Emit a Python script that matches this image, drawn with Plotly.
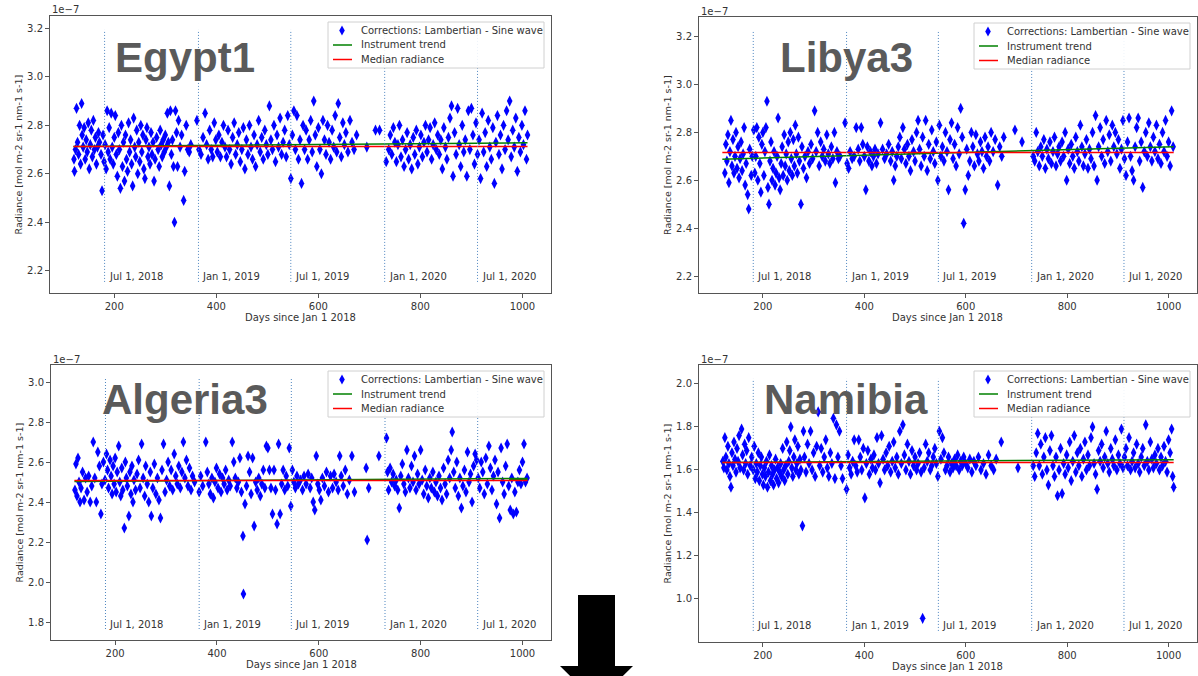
import plotly.graph_objects as go

W, H = 1198, 676

# ---------------- data (radiance values in units of 1e-7) ----------------
panel_names = ["Egypt1", "Libya3", "Algeria3", "Namibia"]
legend_labels = ["Corrections: Lambertian - Sine wave", "Instrument trend", "Median radiance"]

egypt_pts = [
(121,2.66),(122,2.61),(124,2.70),(126,2.87),(128,2.73),(130,2.68),(132,2.80),(134,2.64),(136,2.89),(137,2.76),(139,2.71),(141,2.79),(143,2.66),(145,2.74),(147,2.69),(149,2.81),(151,2.62),(153,2.72),(155,2.78),(157,2.67),(159,2.82),(161,2.70),(163,2.75),(165,2.64),(167,2.71),(169,2.77),(171,2.73),(174,2.68),(176,2.53),(178,2.76),(180,2.65),
(182,2.72),(184,2.62),(186,2.86),(188,2.69),(190,2.79),(192,2.66),(194,2.85),(196,2.71),(198,2.64),(200,2.75),(202,2.84),(204,2.68),(206,2.59),(208,2.77),(210,2.70),(212,2.54),(214,2.80),(216,2.63),(218,2.73),(220,2.57),(222,2.76),(224,2.66),(226,2.61),(228,2.81),(230,2.69),(232,2.74),(234,2.64),(236,2.55),(238,2.83),(240,2.71),(242,2.67),(244,2.78),(246,2.60),(248,2.73),(250,2.65),(252,2.80),(254,2.69),(256,2.76),(258,2.62),(260,2.58),(262,2.74),(264,2.79),(266,2.67),(268,2.71),(270,2.64),(272,2.77),(274,2.68),(276,2.73),(278,2.57),(280,2.66),(283,2.75),(286,2.70),(288,2.63),(290,2.78),(292,2.72),(294,2.67),(296,2.74),(298,2.69),(300,2.76),(302,2.71),(304,2.85),(306,2.73),(308,2.55),(310,2.86),(312,2.68),(314,2.74),(316,2.63),(318,2.40),(320,2.86),(322,2.77),(324,2.63),(326,2.82),(329,2.71),(332,2.76),(336,2.49),(338,2.61),(341,2.80),(344,2.70),(347,2.69),(350,2.72),
(362,2.82),(366,2.70),(370,2.68),(374,2.75),(378,2.85),(381,2.72),(384,2.66),(387,2.78),(390,2.70),(393,2.67),(396,2.81),(399,2.74),(402,2.69),(405,2.76),(408,2.67),(411,2.73),(414,2.80),(417,2.71),(420,2.67),(423,2.78),(426,2.70),(429,2.64),(432,2.75),(435,2.81),(438,2.68),(441,2.72),(444,2.77),(447,2.65),(450,2.70),(453,2.79),(456,2.62),(459,2.74),(462,2.68),(465,2.80),(468,2.71),(471,2.66),(474,2.76),(477,2.63),(480,2.72),(483,2.82),(486,2.69),(489,2.75),(492,2.66),(495,2.78),(498,2.72),(501,2.68),(504,2.88),(507,2.74),(510,2.70),(513,2.80),(516,2.65),(519,2.76),(522,2.71),(525,2.83),(528,2.68),(531,2.73),(534,2.78),(537,2.67),(540,2.84),(543,2.72),(546,2.58),(549,2.76),(552,2.86),(555,2.70),(558,2.84),(561,2.66),(564,2.74),(567,2.56),(570,2.80),(573,2.70),(576,2.78),(579,2.66),(582,2.74),(585,2.82),(588,2.69),(591,2.90),(594,2.76),(597,2.63),(600,2.79),(603,2.70),(606,2.60),(609,2.82),(612,2.74),(615,2.68),(618,2.80),(621,2.73),(624,2.66),(627,2.78),(630,2.71),(633,2.84),(636,2.69),(639,2.89),(642,2.75),(645,2.67),(648,2.81),(651,2.72),(654,2.77),(658,2.69),(662,2.82),(666,2.73),(670,2.70),(675,2.76),
(695,2.71),(712,2.78),(720,2.78),(733,2.65),
(738,2.70),(741,2.76),(744,2.68),(747,2.79),(750,2.73),(753,2.65),(756,2.72),(759,2.80),(762,2.67),(765,2.74),(768,2.63),(771,2.70),(774,2.77),(777,2.66),(780,2.72),(783,2.62),(786,2.75),(789,2.68),(792,2.78),(795,2.64),(798,2.71),(801,2.76),(804,2.67),(807,2.73),(810,2.80),(813,2.69),(816,2.74),(819,2.79),(822,2.66),(825,2.72),(828,2.81),(831,2.70),(834,2.76),(837,2.68),(840,2.74),(843,2.62),(846,2.79),(849,2.71),(852,2.66),(855,2.75),(858,2.83),(861,2.88),(864,2.59),(867,2.77),(870,2.68),(873,2.87),(876,2.72),(879,2.63),(882,2.80),(885,2.69),(888,2.74),(891,2.59),(894,2.86),(897,2.70),(900,2.87),(903,2.76),(906,2.64),(909,2.81),(912,2.68),(915,2.74),(918,2.58),(921,2.85),(924,2.69),(927,2.77),(930,2.63),(933,2.82),(936,2.71),(939,2.66),(942,2.79),(945,2.56),(948,2.73),(951,2.84),(954,2.68),(957,2.76),(960,2.62),(963,2.80),(966,2.70),(969,2.86),(972,2.74),(975,2.90),(978,2.67),(981,2.78),(984,2.71),(987,2.83),(990,2.61),(993,2.75),(996,2.69),(999,2.80),(1002,2.72),(1005,2.86),(1008,2.66),(1010,2.76)]

libya_pts = [
(125,2.63),(127,2.75),(129,2.68),(131,2.79),(133,2.59),(135,2.72),(137,2.85),(139,2.66),(141,2.77),(143,2.63),(145,2.70),(147,2.80),(149,2.65),(151,2.74),(153,2.61),(155,2.69),(157,2.76),(159,2.64),(161,2.71),(163,2.82),(165,2.58),(167,2.67),(170,2.54),(172,2.48),(174,2.73),(177,2.62),(179,2.70),
(182,2.81),(184,2.63),(186,2.70),(188,2.82),(190,2.60),(192,2.78),(194,2.67),(196,2.55),(198,2.75),(200,2.80),(202,2.62),(204,2.72),(206,2.82),(208,2.93),(210,2.57),(212,2.50),(214,2.68),(216,2.76),(218,2.60),(220,2.65),(222,2.72),(224,2.58),(226,2.63),(228,2.70),(230,2.86),(232,2.61),(234,2.56),(236,2.67),(238,2.74),(240,2.62),(242,2.79),(244,2.66),(246,2.71),(248,2.60),(250,2.76),(252,2.64),(254,2.80),(256,2.69),(258,2.62),(260,2.77),(262,2.66),(264,2.83),(266,2.71),(268,2.63),(270,2.78),(272,2.68),(275,2.50),(277,2.74),(280,2.65),(283,2.70),(286,2.61),(289,2.72),(292,2.67),(295,2.75),(298,2.69),(302,2.89),(305,2.72),(308,2.80),(311,2.66),(314,2.76),(317,2.70),(320,2.73),(323,2.68),(326,2.79),(329,2.71),(332,2.67),(335,2.74),(338,2.69),(341,2.80),(343,2.59),(346,2.72),(349,2.69),(352,2.70),
(362,2.84),(366,2.67),(369,2.65),(372,2.72),(376,2.69),(380,2.70),(384,2.82),(388,2.73),(391,2.68),(394,2.82),(397,2.75),(400,2.70),(403,2.56),(406,2.74),(409,2.68),(412,2.72),(415,2.66),(418,2.70),(421,2.73),(424,2.67),(427,2.71),(432,2.84),(436,2.73),(440,2.69),(444,2.71),(448,2.75),(452,2.68),(455,2.72),(458,2.60),(461,2.66),(464,2.70),(467,2.74),(470,2.78),(473,2.69),(476,2.82),(479,2.73),(482,2.67),(485,2.75),(488,2.70),(491,2.64),(494,2.77),(497,2.72),(500,2.68),(503,2.80),(506,2.85),(509,2.73),(512,2.66),(515,2.78),(518,2.70),(521,2.85),(524,2.64),(527,2.75),(530,2.69),(533,2.81),(536,2.72),(539,2.67),(542,2.76),(545,2.60),(548,2.83),(551,2.70),(554,2.74),(557,2.68),(560,2.80),(563,2.72),(566,2.56),(569,2.77),(572,2.84),(575,2.69),(578,2.75),(581,2.66),(584,2.82),(587,2.71),(590,2.90),(593,2.78),(596,2.42),(599,2.56),(602,2.73),(605,2.62),(608,2.68),(611,2.80),(614,2.74),(617,2.66),(620,2.79),(623,2.71),(626,2.68),(629,2.76),(632,2.72),(635,2.65),(638,2.78),(641,2.70),(644,2.74),(647,2.68),(650,2.80),(654,2.72),(658,2.77),(663,2.58),(667,2.74),(671,2.70),(675,2.78),
(697,2.81),(711,2.76),(733,2.70),
(736,2.68),(739,2.80),(742,2.72),(745,2.66),(748,2.74),(751,2.70),(754,2.77),(757,2.65),(760,2.73),(763,2.69),(766,2.76),(769,2.67),(772,2.72),(775,2.78),(778,2.66),(781,2.71),(784,2.74),(787,2.68),(790,2.76),(793,2.70),(796,2.80),(799,2.60),(802,2.73),(805,2.67),(808,2.75),(811,2.70),(814,2.65),(817,2.78),(820,2.72),(823,2.68),(826,2.83),(829,2.74),(832,2.66),(835,2.71),(838,2.77),(841,2.65),(844,2.73),(847,2.69),(850,2.80),(853,2.66),(856,2.87),(859,2.60),(862,2.74),(865,2.82),(868,2.70),(871,2.77),(874,2.67),(877,2.85),(880,2.72),(883,2.79),(886,2.68),(889,2.83),(892,2.74),(895,2.80),(898,2.71),(901,2.77),(904,2.65),(907,2.73),(910,2.85),(913,2.69),(916,2.62),(919,2.76),(922,2.86),(925,2.70),(928,2.64),(931,2.60),(934,2.74),(937,2.82),(940,2.86),(943,2.68),(946,2.76),(949,2.57),(952,2.72),(955,2.80),(958,2.70),(961,2.84),(964,2.74),(967,2.68),(970,2.78),(973,2.72),(976,2.83),(979,2.69),(982,2.75),(985,2.67),(988,2.80),(991,2.72),(994,2.85),(997,2.70),(1000,2.76),(1003,2.66),(1006,2.89),(1009,2.74)]

algeria_pts = [
(121,2.46),(123,2.59),(125,2.43),(127,2.62),(129,2.50),(131,2.40),(133,2.47),(136,2.55),(139,2.41),(142,2.52),(145,2.45),(148,2.53),(151,2.40),(154,2.48),(157,2.70),(160,2.52),(163,2.40),(166,2.65),(169,2.58),(172,2.34),(174,2.49),(177,2.60),(180,2.51),(183,2.64),(185,2.56),(187,2.47),(190,2.61),(192,2.53),(194,2.44),(196,2.58),(198,2.49),(200,2.62),(202,2.45),(204,2.55),(207,2.68),(209,2.50),(211,2.43),(213,2.57),(215,2.46),(218,2.27),(220,2.60),(222,2.52),(224,2.48),(227,2.33),(229,2.55),(231,2.44),(233,2.58),(235,2.40),(237,2.51),(240,2.46),(243,2.54),(246,2.61),(249,2.47),(252,2.69),(255,2.52),(258,2.43),(260,2.58),(263,2.49),(266,2.40),(269,2.55),(271,2.33),(274,2.47),(277,2.59),(280,2.44),(283,2.52),(286,2.41),(289,2.32),(292,2.56),(295,2.69),(298,2.45),(301,2.51),(304,2.60),(307,2.48),(310,2.56),(313,2.46),(316,2.64),(319,2.53),(322,2.49),(325,2.58),(328,2.47),(331,2.55),(334,2.70),(337,2.52),(340,2.61),(343,2.48),(346,2.57),(349,2.46),(352,2.53),(356,2.50),
(365,2.45),(368,2.53),(372,2.48),(378,2.70),(381,2.55),(384,2.49),(387,2.44),(390,2.52),(393,2.42),(396,2.50),(399,2.57),(402,2.47),(405,2.54),(408,2.45),(411,2.52),(414,2.49),(417,2.56),(420,2.46),(423,2.51),(426,2.48),(430,2.70),(433,2.60),(436,2.52),(439,2.47),(442,2.50),(445,2.62),(448,2.45),(451,2.23),(452,1.94),(455,2.39),(458,2.48),(461,2.63),(464,2.55),(467,2.44),(470,2.62),(473,2.28),(476,2.50),(479,2.46),(482,2.52),(485,2.43),(488,2.49),(491,2.56),(494,2.47),(497,2.68),(500,2.67),(503,2.56),(506,2.47),(509,2.34),(512,2.56),(515,2.46),(518,2.29),(521,2.69),(524,2.34),(527,2.49),(530,2.56),(533,2.46),(536,2.53),(539,2.48),(542,2.67),(545,2.38),(548,2.56),(551,2.50),(554,2.47),(557,2.53),(560,2.49),(564,2.51),(568,2.46),(571,2.53),(575,2.49),(579,2.54),(583,2.47),(586,2.52),(589,2.40),(592,2.36),(595,2.63),(598,2.49),(601,2.46),(604,2.41),(607,2.52),(611,2.48),(615,2.55),(619,2.45),(623,2.53),(627,2.47),(630,2.54),(634,2.50),(638,2.46),(641,2.63),(644,2.53),(648,2.48),(652,2.56),(656,2.44),(660,2.51),(665,2.63),(670,2.45),
(693,2.57),(695,2.21),(698,2.47),(718,2.63),(733,2.72),(735,2.55),
(737,2.46),(740,2.57),(743,2.50),(746,2.54),(749,2.48),(752,2.51),(755,2.46),(758,2.37),(761,2.53),(764,2.59),(767,2.49),(770,2.45),(773,2.66),(776,2.52),(779,2.47),(782,2.58),(785,2.50),(788,2.63),(791,2.46),(794,2.54),(797,2.49),(800,2.66),(803,2.51),(806,2.44),(809,2.56),(812,2.48),(815,2.42),(818,2.52),(821,2.47),(824,2.55),(827,2.45),(830,2.50),(833,2.43),(836,2.53),(839,2.47),(842,2.41),(845,2.57),(848,2.49),(851,2.44),(854,2.61),(857,2.52),(860,2.66),(862,2.75),(865,2.55),(868,2.47),(871,2.60),(874,2.43),(877,2.52),(880,2.37),(883,2.48),(886,2.56),(889,2.45),(892,2.65),(895,2.50),(898,2.54),(901,2.40),(904,2.58),(907,2.64),(910,2.61),(913,2.52),(916,2.47),(919,2.60),(922,2.55),(925,2.44),(928,2.62),(931,2.49),(934,2.68),(937,2.57),(940,2.46),(943,2.53),(946,2.61),(949,2.39),(952,2.55),(955,2.32),(958,2.67),(961,2.50),(964,2.44),(967,2.58),(970,2.69),(973,2.48),(976,2.36),(979,2.52),(982,2.34),(985,2.45),(988,2.35),(991,2.50),(994,2.56),(997,2.49),(1000,2.60),(1003,2.69),(1006,2.50),(1009,2.52)]

namibia_pts = [
(121,1.64),(123,1.61),(125,1.75),(127,1.66),(129,1.60),(131,1.71),(133,1.63),(135,1.57),(137,1.52),(139,1.68),(141,1.62),(143,1.73),(145,1.65),(147,1.59),(149,1.70),(151,1.64),(153,1.76),(155,1.61),(158,1.79),(160,1.67),(162,1.60),(164,1.72),(166,1.63),(168,1.69),(170,1.58),(172,1.75),(175,1.62),(178,1.66),
(181,1.60),(183,1.71),(185,1.56),(187,1.63),(189,1.59),(191,1.68),(193,1.55),(195,1.62),(197,1.66),(199,1.58),(201,1.53),(203,1.61),(205,1.57),(207,1.64),(209,1.52),(211,1.59),(213,1.67),(215,1.55),(217,1.62),(219,1.58),(221,1.53),(223,1.60),(225,1.65),(227,1.56),(229,1.61),(231,1.54),(233,1.59),(235,1.63),(237,1.57),(239,1.70),(241,1.60),(243,1.55),(245,1.62),(247,1.73),(249,1.58),(251,1.64),(253,1.69),(255,1.80),(257,1.61),(259,1.57),(261,1.66),(263,1.74),(265,1.60),(267,1.63),(269,1.71),(271,1.58),(273,1.65),(275,1.60),(278,1.34),(280,1.78),(282,1.66),(285,1.59),(288,1.72),(291,1.63),(294,1.78),(297,1.60),(300,1.68),(303,1.57),(306,1.71),(309,1.87),(312,1.62),(315,1.70),(318,1.59),(321,1.66),(324,1.74),(327,1.61),(330,1.57),(333,1.68),(336,1.63),(339,1.84),(342,1.56),(345,1.81),(348,1.66),(351,1.78),(354,1.62),(357,1.56),
(365,1.51),(368,1.67),(371,1.61),(374,1.58),(377,1.64),(380,1.74),(383,1.62),(386,1.59),(389,1.74),(392,1.66),(395,1.60),(398,1.70),(401,1.47),(404,1.63),(407,1.69),(410,1.58),(413,1.65),(416,1.61),(419,1.67),(422,1.60),(425,1.75),(428,1.63),(431,1.54),(434,1.76),(437,1.65),(440,1.60),(443,1.68),(446,1.62),(449,1.71),(452,1.59),(455,1.64),(458,1.73),(461,1.61),(464,1.66),(467,1.58),(470,1.78),(473,1.63),(476,1.81),(479,1.67),(482,1.60),(485,1.72),(488,1.64),(491,1.58),(494,1.69),(497,1.62),(500,1.66),(503,1.60),(506,1.63),(509,1.68),(512,1.59),(515,0.91),(518,1.61),(521,1.72),(524,1.64),(527,1.68),(530,1.60),(533,1.62),(536,1.66),(539,1.70),(542,1.63),(545,1.57),(548,1.78),(551,1.65),(554,1.75),(557,1.68),(560,1.60),(563,1.62),(566,1.66),(569,1.59),(572,1.63),(575,1.61),(578,1.65),(581,1.62),(584,1.67),(587,1.60),(590,1.64),(593,1.62),(596,1.66),(600,1.63),(604,1.61),(608,1.65),(612,1.59),(616,1.64),(620,1.62),(625,1.66),(630,1.60),(635,1.63),(640,1.58),(645,1.67),(650,1.62),(655,1.60),(660,1.65),(670,1.73),
(703,1.61),(733,1.62),
(736,1.57),(739,1.68),(742,1.77),(745,1.62),(748,1.72),(751,1.58),(754,1.66),(757,1.75),(760,1.60),(763,1.53),(766,1.69),(769,1.76),(772,1.62),(775,1.57),(778,1.66),(781,1.48),(784,1.60),(787,1.70),(790,1.49),(793,1.63),(796,1.58),(799,1.67),(802,1.61),(805,1.73),(808,1.55),(811,1.64),(814,1.76),(817,1.59),(820,1.68),(823,1.62),(826,1.70),(829,1.57),(832,1.65),(835,1.73),(838,1.60),(841,1.67),(844,1.62),(847,1.75),(850,1.80),(853,1.63),(856,1.58),(859,1.51),(862,1.69),(865,1.64),(868,1.72),(871,1.61),(874,1.66),(877,1.78),(880,1.63),(883,1.59),(886,1.70),(889,1.65),(892,1.62),(895,1.74),(898,1.60),(901,1.67),(904,1.63),(907,1.79),(910,1.61),(913,1.66),(916,1.70),(919,1.62),(922,1.75),(925,1.60),(928,1.64),(931,1.68),(934,1.61),(937,1.72),(940,1.63),(943,1.59),(946,1.66),(949,1.70),(952,1.62),(955,1.81),(958,1.64),(961,1.60),(964,1.73),(967,1.65),(970,1.61),(973,1.67),(976,1.63),(979,1.70),(982,1.60),(985,1.66),(988,1.62),(991,1.71),(994,1.64),(997,1.59),(1000,1.74),(1003,1.68),(1006,1.79),(1008,1.57),(1010,1.52)]

# trend / median lines (start, end) over the observation period
line_days = [120, 1010]
trend_vals = [[2.712, 2.728], [2.688, 2.740], [2.503, 2.518], [1.635, 1.648]]
median_vals = [2.713, 2.716, 2.508, 1.635]

# event markers
event_days = [181, 365, 546, 730, 912]
event_labels = ["Jul 1, 2018", "Jan 1, 2019", "Jul 1, 2019", "Jan 1, 2020", "Jul 1, 2020"]

x_ticks = [200, 400, 600, 800, 1000]
x_range = [74, 1056]
y_ranges = [[2.108, 3.251], [2.129, 3.282], [1.71, 3.085], [0.80, 2.088]]
y_tick_lists = [[2.2, 2.4, 2.6, 2.8, 3.0, 3.2], [2.2, 2.4, 2.6, 2.8, 3.0, 3.2],
                [1.8, 2.0, 2.2, 2.4, 2.6, 2.8, 3.0], [1.0, 1.2, 1.4, 1.6, 1.8, 2.0]]

all_pts = [egypt_pts, libya_pts, algeria_pts, namibia_pts]

BLUE, GREEN, RED = "#0000ff", "#008000", "#ff0000"

# ---------------- layout geometry (pixels) ----------------
def px(x):
    return x / W

def py(y):
    return 1 - y / H

boxes = [(50, 551, 16, 293), (699, 1197, 17, 293), (51, 551, 365, 640), (699, 1197, 365, 642)]
title_pos = [(113, 58), (778, 58), (100, 399), (762, 399)]

TXT = "#333333"
FONT = "DejaVu Sans"

fig = go.Figure()
annotations = []
shapes = []
layout = {}

for i in range(4):
    sfx = "" if i == 0 else str(i + 1)
    xa, ya = "x" + sfx, "y" + sfx
    l, r, t, b = boxes[i]
    pts = all_pts[i]
    days = [p[0] for p in pts]
    vals = [p[1] for p in pts]

    fig.add_trace(go.Scatter(x=days, y=vals, mode="markers", xaxis=xa, yaxis=ya,
                             name=legend_labels[0], showlegend=False,
                             marker=dict(symbol="diamond-tall", size=8, color=BLUE,
                                         line=dict(width=0))))
    fig.add_trace(go.Scatter(x=line_days, y=trend_vals[i], mode="lines", xaxis=xa, yaxis=ya,
                             name=legend_labels[1], showlegend=False,
                             line=dict(color=GREEN, width=1.5)))
    fig.add_trace(go.Scatter(x=line_days, y=[median_vals[i]] * 2, mode="lines", xaxis=xa, yaxis=ya,
                             name=legend_labels[2], showlegend=False,
                             line=dict(color=RED, width=1.5)))

    axis_common = dict(showline=True, mirror=True, linecolor="#555555", linewidth=1,
                       ticks="outside", ticklen=4, tickcolor="#555555", showgrid=False,
                       zeroline=False, tickfont=dict(family=FONT, size=10, color=TXT))
    layout["xaxis" + sfx] = dict(axis_common, domain=[px(l), px(r)], range=x_range,
                                 tickvals=x_ticks, anchor=ya)
    layout["yaxis" + sfx] = dict(axis_common, domain=[py(b), py(t)], range=y_ranges[i],
                                 tickvals=y_tick_lists[i], tickformat=".1f", anchor=xa)

    # event lines + labels
    for d, lab in zip(event_days, event_labels):
        shapes.append(dict(type="line", xref=xa, yref=ya + " domain", x0=d, x1=d, y0=0.04, y1=0.95,
                           line=dict(color="#4f86c0", width=1, dash="1px,2px")))
        annotations.append(dict(x=d, y=0.058, xref=xa, yref=ya + " domain", text=lab,
                                showarrow=False, xanchor="left", yanchor="middle", xshift=2,
                                font=dict(family=FONT, size=10, color=TXT)))

    # manual legend (box, glyphs, labels)
    lx0, lx1, ly0, ly1 = r - 223, r - 7, t + 6, t + 52
    shapes.append(dict(type="rect", xref="paper", yref="paper", x0=px(lx0), x1=px(lx1),
                       y0=py(ly1), y1=py(ly0), fillcolor="rgba(255,255,255,0.9)",
                       line=dict(color="#d0d0d0", width=1), layer="above"))
    rows = [t + 14.5, t + 29, t + 43.5]
    gx = lx0 + 14
    shapes.append(dict(type="path", xref="paper", yref="paper", layer="above",
                       path="M %f %f L %f %f L %f %f L %f %f Z" % (
                           px(gx), py(rows[0] - 5), px(gx + 2.8), py(rows[0]),
                           px(gx), py(rows[0] + 5), px(gx - 2.8), py(rows[0])),
                       fillcolor=BLUE, line=dict(width=0)))
    for row, col in zip(rows[1:], [GREEN, RED]):
        shapes.append(dict(type="line", xref="paper", yref="paper", layer="above",
                           x0=px(lx0 + 5), x1=px(lx0 + 24), y0=py(row), y1=py(row),
                           line=dict(color=col, width=1.5)))
    for row, lab in zip(rows, legend_labels):
        annotations.append(dict(x=px(lx0 + 31), y=py(row), xref="paper", yref="paper", text=lab,
                                showarrow=False, xanchor="left", yanchor="middle",
                                font=dict(family=FONT, size=10, color=TXT)))

    # site name
    tx, ty = title_pos[i]
    annotations.append(dict(x=px(tx), y=py(ty), xref="paper", yref="paper", text="<b>%s</b>" % panel_names[i],
                            showarrow=False, xanchor="left", yanchor="middle",
                            font=dict(family="Liberation Sans", size=42, color="#5a5a5a")))
    # offset text
    annotations.append(dict(x=px(l), y=py(t - 6), xref="paper", yref="paper", text="1e\u22127",
                            showarrow=False, xanchor="left", yanchor="middle",
                            font=dict(family=FONT, size=10, color=TXT)))
    # axis titles
    annotations.append(dict(x=px((l + r) / 2), y=py(b + 24), xref="paper", yref="paper",
                            text="Days since Jan 1 2018", showarrow=False, xanchor="center",
                            yanchor="middle", font=dict(family=FONT, size=10, color=TXT)))
    annotations.append(dict(x=px(l - 32), y=py((t + b) / 2), xref="paper", yref="paper",
                            text="Radiance [mol m-2 sr-1 nm-1 s-1]", showarrow=False, textangle=-90,
                            xanchor="center", yanchor="middle",
                            font=dict(family=FONT, size=9.5, color=TXT)))

# big down arrow at bottom centre
shapes.append(dict(type="path", xref="paper", yref="paper",
                   path="M %f %f L %f %f L %f %f L %f %f L %f %f L %f %f L %f %f Z" % (
                       px(578), py(595), px(615), py(595), px(615), py(666), px(633), py(666),
                       px(596.5), py(702), px(560), py(666), px(578), py(666)),
                   fillcolor="#000000", line=dict(width=0)))

fig.update_layout(width=W, height=H, margin=dict(l=0, r=0, t=0, b=0),
                  paper_bgcolor="white", plot_bgcolor="white", showlegend=False,
                  annotations=annotations, shapes=shapes, **layout)

fig.write_html("out.html")
